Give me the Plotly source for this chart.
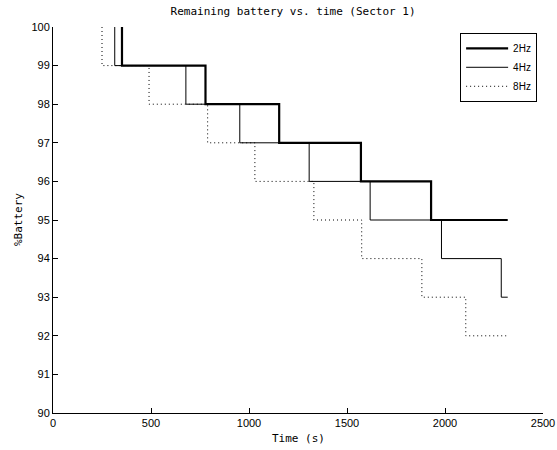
import plotly.graph_objects as go

# Data (time of each 1% drop, then end time)
t_2hz = [352, 778, 1154, 1571, 1929, 2320]
b_2hz = [100, 99, 98, 97, 96, 95]

t_4hz = [315, 678, 953, 1307, 1618, 1982, 2287, 2320]
b_4hz = [100, 99, 98, 97, 96, 95, 94, 93]

t_8hz = [250, 490, 789, 1030, 1331, 1575, 1882, 2106, 2320]
b_8hz = [100, 99, 98, 97, 96, 95, 94, 93, 92]

x_ticks = [0, 500, 1000, 1500, 2000, 2500]
y_ticks = [90, 91, 92, 93, 94, 95, 96, 97, 98, 99, 100]

mono = "DejaVu Sans Mono"
sans = "Liberation Sans"

fig = go.Figure()
fig.add_trace(go.Scatter(x=t_2hz, y=b_2hz, mode="lines", name="2Hz",
                         line=dict(color="black", width=2.2, shape="vh")))
fig.add_trace(go.Scatter(x=t_4hz, y=b_4hz, mode="lines", name="4Hz",
                         line=dict(color="black", width=1, shape="vh")))
fig.add_trace(go.Scatter(x=t_8hz, y=b_8hz, mode="lines", name="8Hz",
                         line=dict(color="black", width=1, shape="vh", dash="1px,3px")))

fig.update_layout(
    width=557, height=450,
    margin=dict(l=53, r=14, t=27, b=37, autoexpand=False),
    paper_bgcolor="white", plot_bgcolor="white",
    title=dict(text="Remaining battery vs. time (Sector 1)", x=0.49, xref="paper",
               xanchor="center", y=1 - 11 / 450, yanchor="middle",
               font=dict(family=mono, size=11, color="black")),
    showlegend=True,
    legend=dict(x=0.988, y=0.985, xanchor="right", yanchor="top",
                bgcolor="white", bordercolor="black", borderwidth=1,
                font=dict(family=sans, size=10, color="black"),
                itemwidth=42, tracegroupgap=0),
)
fig.add_annotation(text="Time (s)", x=0.5, xref="paper", y=(413 - 438) / 386, yref="paper",
                   xanchor="center", yanchor="middle",
                   showarrow=False, font=dict(family=mono, size=11, color="black"))
fig.add_annotation(text="%Battery", x=(18 - 53) / 490, xref="paper",
                   y=(413 - 220) / 386, yref="paper", textangle=-90,
                   xanchor="center", yanchor="middle",
                   showarrow=False, font=dict(family=mono, size=11, color="black"))

fig.update_xaxes(range=[0, 2500], tickvals=x_ticks, ticktext=[str(v) for v in x_ticks],
                 showgrid=False, zeroline=False, showline=True, linecolor="black",
                 linewidth=1, ticks="inside", ticklen=5, tickcolor="black", mirror=False,
                 automargin=False,
                 tickfont=dict(family=sans, size=11, color="black"))
fig.update_yaxes(range=[90, 100], tickvals=y_ticks, ticktext=[str(v) for v in y_ticks],
                 showgrid=False, zeroline=False, showline=True, linecolor="black",
                 linewidth=1, ticks="inside", ticklen=5, tickcolor="black", mirror=False,
                 automargin=False,
                 tickfont=dict(family=sans, size=11, color="black"))

fig.write_html("out.html", config={"displayModeBar": False},
               post_script="document.body.style.margin='0';document.body.style.padding='0';")
